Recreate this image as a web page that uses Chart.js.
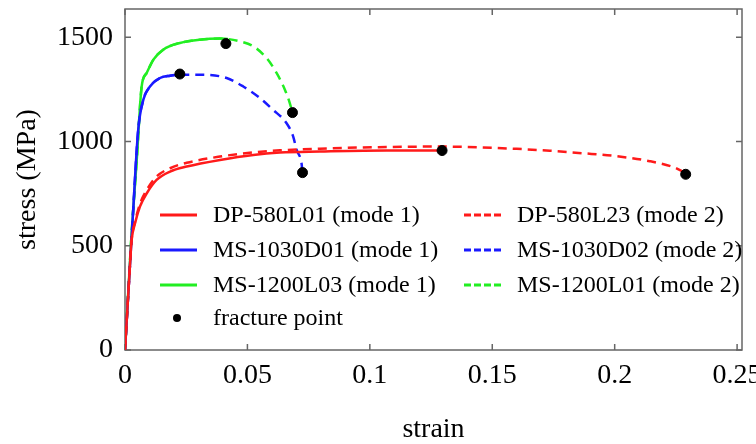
<!DOCTYPE html>
<html><head><meta charset="utf-8">
<script src="https://cdn.jsdelivr.net/npm/chart.js@4.4.1/dist/chart.umd.min.js"></script>
<style>html,body{margin:0;padding:0;background:#fff}#wrap{width:756px;height:444px;position:relative}</style>
</head><body><div id="wrap"><canvas id="c"></canvas></div>
<script>
// ---- data ----
const xTicks = [0, 0.05, 0.1, 0.15, 0.2, 0.25];
const xTickLabels = ['0', '0.05', '0.1', '0.15', '0.2', '0.25'];
const yTicks = [0, 500, 1000, 1500];
const yTickLabels = ['0', '500', '1000', '1500'];

const dp1Strain = [0, 0.0022, 0.0027, 0.0041, 0.0061, 0.0089, 0.0129, 0.0184, 0.0252, 0.0388, 0.0524, 0.0633, 0.0796, 0.1068, 0.1295];
const dp1Stress = [0, 440, 527, 608, 688, 752, 816, 856, 880, 912, 936, 947, 952, 957, 957];

const dp2Strain = [0, 0.0022, 0.0027, 0.0041, 0.0061, 0.0089, 0.0129, 0.0184, 0.0252, 0.0388, 0.0524, 0.0633, 0.0796, 0.1068, 0.1300, 0.1395, 0.1600, 0.1735, 0.1870, 0.2007, 0.2143, 0.2238, 0.2293];
const dp2Stress = [0, 440, 530, 615, 700, 768, 832, 872, 898, 928, 948, 958, 966, 974, 976, 974, 965, 956, 944, 930, 906, 878, 848];

const ms1030_1Strain = [0, 0.0030, 0.0054, 0.0075, 0.0102, 0.0143, 0.0184, 0.0224];
const ms1030_1Stress = [0, 600, 1057, 1201, 1264, 1305, 1316, 1321];

const ms1030_2Strain = [0, 0.0030, 0.0054, 0.0075, 0.0102, 0.0143, 0.0184, 0.0224, 0.0306, 0.0415, 0.0483, 0.0551, 0.0605, 0.0660, 0.0687, 0.0701, 0.0721, 0.0725];
const ms1030_2Stress = [0, 600, 1057, 1201, 1264, 1305, 1316, 1321, 1321, 1305, 1264, 1209, 1152, 1088, 1024, 960, 896, 851];

const ms1200_1Strain = [0, 0.0027, 0.0048, 0.0068, 0.0089, 0.0116, 0.0156, 0.0224, 0.0306, 0.0388, 0.0420];
const ms1200_1Stress = [0, 560, 912, 1264, 1330, 1393, 1441, 1473, 1489, 1494, 1492];

const ms1200_2Strain = [0, 0.0027, 0.0048, 0.0068, 0.0089, 0.0116, 0.0156, 0.0224, 0.0306, 0.0388, 0.0420, 0.0469, 0.0524, 0.0578, 0.0619, 0.0653, 0.0673, 0.0684];
const ms1200_2Stress = [0, 560, 912, 1264, 1330, 1393, 1441, 1473, 1489, 1494, 1492, 1481, 1457, 1401, 1329, 1249, 1185, 1139];

const fractureStrain = [0.0224, 0.0412, 0.0684, 0.0725, 0.1295, 0.2290];
const fractureStress = [1324, 1470, 1139, 851, 957, 843];

const seriesLabels = ['DP-580L01 (mode 1)', 'DP-580L23 (mode 2)', 'MS-1030D01 (mode 1)', 'MS-1030D02 (mode 2)', 'MS-1200L03 (mode 1)', 'MS-1200L01 (mode 2)', 'fracture point'];

// ---- build ----
const FONT = "'Liberation Serif', 'Times New Roman', serif";
const RED = '#ff1a1a', BLUE = '#1a1aff', GREEN = '#22ee22';
const pts = (xs, ys) => xs.map((v, i) => ({x: v, y: ys[i]}));
function lineDs(label, xs, ys, color, dashed) {
  return {
    label, data: pts(xs, ys), showLine: true, pointRadius: 0, borderColor: color,
    backgroundColor: color, borderWidth: 2.5, borderDash: dashed ? [9, 6] : [],
    cubicInterpolationMode: 'monotone', order: 1, fill: false
  };
}
const datasets = [
  {label: seriesLabels[6], data: pts(fractureStrain, fractureStress), showLine: false, pointRadius: 5,
   pointBackgroundColor: '#000', pointBorderColor: '#000', borderColor: '#000', backgroundColor: '#000', order: 0},
  lineDs(seriesLabels[0], dp1Strain, dp1Stress, RED, false),
  lineDs(seriesLabels[1], dp2Strain, dp2Stress, RED, true),
  lineDs(seriesLabels[2], ms1030_1Strain, ms1030_1Stress, BLUE, false),
  lineDs(seriesLabels[3], ms1030_2Strain, ms1030_2Stress, BLUE, true),
  lineDs(seriesLabels[4], ms1200_1Strain, ms1200_1Stress, GREEN, false),
  lineDs(seriesLabels[5], ms1200_2Strain, ms1200_2Stress, GREEN, true),
];

const framePlugin = {
  id: 'frame',
  beforeDatasetsDraw(chart) {
    const {ctx, chartArea: a, scales: {x, y}} = chart;
    ctx.save();
    ctx.strokeStyle = '#666'; ctx.lineWidth = 1.5;
    ctx.strokeRect(a.left, a.top, a.right - a.left, a.bottom - a.top);
    ctx.beginPath();
    x.ticks.forEach(t => { const p = x.getPixelForValue(t.value);
      ctx.moveTo(p, a.bottom); ctx.lineTo(p, a.bottom - 6); ctx.moveTo(p, a.top); ctx.lineTo(p, a.top + 6); });
    y.ticks.forEach(t => { const p = y.getPixelForValue(t.value);
      ctx.moveTo(a.left, p); ctx.lineTo(a.left + 6, p); ctx.moveTo(a.right, p); ctx.lineTo(a.right - 6, p); });
    ctx.stroke();
    ctx.restore();
  }
};

const legendPlugin = {
  id: 'innerLegend',
  afterDatasetsDraw(chart) {
    const ctx = chart.ctx;
    const order = [1, 2, 3, 4, 5, 6, 0];
    const rowsY = [215, 250, 285, 318];
    const colLineX = [160, 464];
    const colTextX = [213, 517];
    ctx.save();
    ctx.font = '24px ' + FONT;
    ctx.textBaseline = 'middle';
    ctx.fillStyle = '#000';
    order.forEach((di, k) => {
      const ds = chart.data.datasets[di];
      const r = Math.floor(k / 2), c = k % 2;
      const yy = rowsY[r];
      if (ds.showLine) {
        ctx.beginPath();
        ctx.strokeStyle = ds.borderColor; ctx.lineWidth = 3;
        ctx.setLineDash(ds.borderDash.length ? [7, 3] : []);
        ctx.moveTo(colLineX[c], yy); ctx.lineTo(colLineX[c] + 37, yy);
        ctx.stroke();
        ctx.setLineDash([]);
      } else {
        ctx.beginPath(); ctx.fillStyle = '#000';
        ctx.arc(colLineX[c] + 17, yy, 4, 0, Math.PI * 2); ctx.fill();
      }
      ctx.fillStyle = '#000';
      ctx.fillText(ds.label, colTextX[c], yy + 1);
    });
    ctx.restore();
  }
};

new Chart(document.getElementById('c'), {
  type: 'scatter',
  data: {datasets},
  plugins: [framePlugin, legendPlugin],
  options: {
    responsive: true, maintainAspectRatio: false, animation: false,
    layout: {padding: {left: 0, right: 14, top: 9, bottom: 0}},
    plugins: {legend: {display: false}, tooltip: {enabled: false}},
    scales: {
      x: {
        type: 'linear', min: 0, max: 0.252,
        afterBuildTicks: s => { s.ticks = xTicks.map(v => ({value: v})); },
        afterFit: s => { s.height = 94; s.paddingLeft = 0; s.paddingRight = 0; },
        grid: {display: false, drawTicks: false},
        border: {display: false},
        ticks: {padding: 9, color: '#000', font: {family: FONT, size: 28},
          callback: (v) => { const i = xTicks.indexOf(v); return i >= 0 ? xTickLabels[i] : ''; }},
        title: {display: true, text: 'strain', color: '#000', font: {family: FONT, size: 28, lineHeight: 1}, padding: 0}
      },
      y: {
        type: 'linear', min: 0, max: 1636,
        afterBuildTicks: s => { s.ticks = yTicks.map(v => ({value: v})); },
        afterFit: s => { s.width = 125; s.paddingTop = 0; s.paddingBottom = 0; },
        grid: {display: false, drawTicks: false},
        border: {display: false},
        ticks: {padding: 12, color: '#000', font: {family: FONT, size: 28},
          callback: (v) => { const i = yTicks.indexOf(v); return i >= 0 ? yTickLabels[i] : ''; }},
        title: {display: true, text: 'stress (MPa)', color: '#000', font: {family: FONT, size: 28}, padding: 11}
      }
    }
  }
});
</script>
</body></html>
